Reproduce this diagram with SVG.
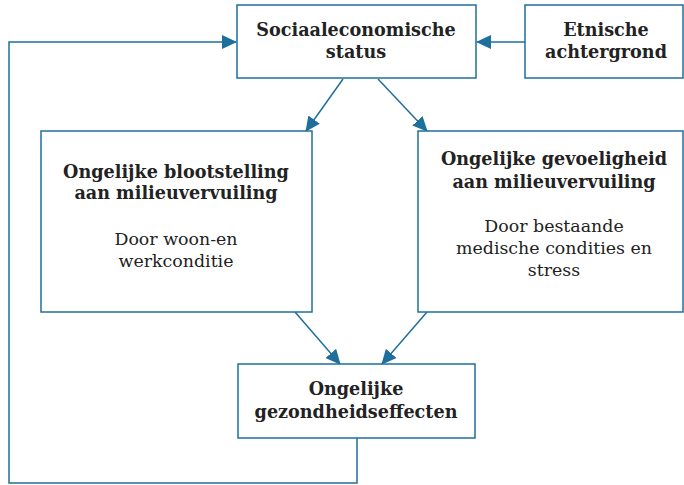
<svg xmlns="http://www.w3.org/2000/svg" width="684" height="485" viewBox="0 0 684 485">
<style>
.box{fill:#fff;stroke:#1f6f9c;stroke-width:1.5}
.con{fill:none;stroke:#1f6f9c;stroke-width:1.5}
.t{font-family:"DejaVu Serif","Liberation Serif",serif;font-weight:bold;font-size:17.6px;fill:#222;text-anchor:middle}
.s{font-family:"DejaVu Serif","Liberation Serif",serif;font-size:17.4px;fill:#222;text-anchor:middle}
</style>
<defs>
<marker id="ah" markerUnits="userSpaceOnUse" markerWidth="15" markerHeight="14" refX="14" refY="7" orient="auto">
<path d="M0,0 L15,7 L0,14 Z" fill="#1f6f9c"/>
</marker>
</defs>
<rect width="684" height="485" fill="#fff"/>
<g id="connectors">
<path class="con" d="M525,42 H477" marker-end="url(#ah)"/>
<path class="con" d="M357,438 V483 H9 V42 H236" marker-end="url(#ah)"/>
<path class="con" d="M343,79 L306,131" marker-end="url(#ah)"/>
<path class="con" d="M378,79 L427,131" marker-end="url(#ah)"/>
<path class="con" d="M295,312 L340,364" marker-end="url(#ah)"/>
<path class="con" d="M427,312 L382,364" marker-end="url(#ah)"/>
</g>
<g id="ses">
<rect class="box" x="237" y="5" width="239" height="73"/>
<text class="t" x="356" y="36">Sociaaleconomische</text>
<text class="t" x="356" y="58">status</text>
</g>
<g id="etnisch">
<rect class="box" x="525" y="5" width="158" height="73"/>
<text class="t" x="606" y="36">Etnische</text>
<text class="t" x="606" y="58">achtergrond</text>
</g>
<g id="blootstelling">
<rect class="box" x="41" y="131" width="271" height="181"/>
<text class="t" x="176" y="178">Ongelijke blootstelling</text>
<text class="t" x="176" y="199">aan milieuvervuiling</text>
<text class="s" x="176" y="245">Door woon-en</text>
<text class="s" x="176" y="267">werkconditie</text>
</g>
<g id="gevoeligheid">
<rect class="box" x="418" y="131" width="265" height="181"/>
<text class="t" x="554" y="165">Ongelijke gevoeligheid</text>
<text class="t" x="554" y="188">aan milieuvervuiling</text>
<text class="s" x="554" y="232">Door bestaande</text>
<text class="s" x="554" y="254">medische condities en</text>
<text class="s" x="554" y="276">stress</text>
</g>
<g id="gezondheid">
<rect class="box" x="238" y="364" width="237" height="74"/>
<text class="t" x="356" y="395">Ongelijke</text>
<text class="t" x="356" y="418">gezondheidseffecten</text>
</g>
</svg>
